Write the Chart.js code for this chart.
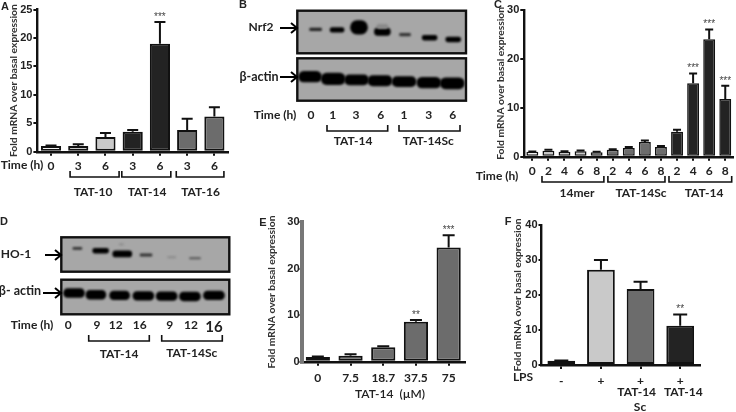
<!DOCTYPE html>
<html>
<head>
<meta charset="utf-8">
<script src="https://cdn.jsdelivr.net/npm/chart.js"></script>
<style>
html, body { margin: 0; padding: 0; background: #fff; overflow: hidden; }
#page { position: relative; width: 736px; height: 412px; filter: blur(0.35px); }
canvas { position: absolute; left: 0; top: 0; }
</style>
</head>
<body>
<div id="page"></div>
<script>
// Panel A
const catA = ['0', '3', '6', '3', '6', '3', '6'];
const valA = [1.0, 1.0, 2.6, 3.5, 19.0, 3.8, 6.2];
const errA = [1.1, 1.3, 3.3, 3.8, 22.8, 5.8, 7.8];
const starA = ['', '', '', '', '***', '', ''];
const ticksA = [0, 5, 10, 15, 20, 25];

// Panel C
const catC = ['0', '2', '4', '6', '8', '2', '4', '6', '8', '2', '4', '6', '8'];
const valC = [1.0, 1.2, 1.0, 1.1, 0.9, 1.4, 1.8, 3.0, 2.0, 5.1, 15.0, 24.0, 11.8];
const errC = [1.05, 1.4, 1.1, 1.25, 1.0, 1.5, 2.0, 3.3, 2.2, 5.5, 17.0, 26.0, 14.5];
const starC = ['', '', '', '', '', '', '', '', '', '', '***', '***', '***'];
const ticksC = [0, 10, 20, 30];

// Panel E
const catE = ['0', '7.5', '18.7', '37.5', '75'];
const valE = [1.0, 1.3, 3.1, 8.6, 24.6];
const errE = [1.1, 1.6, 3.3, 9.0, 27.2];
const starE = ['', '', '', '**', '***'];
const ticksE = [0, 10, 20, 30];

// Panel F
const catF = ['-', '+', '+', '+'];
const valF = [1.2, 27.2, 21.7, 11.2];
const errF = [1.3, 30.0, 23.8, 14.4];
const starF = ['', '', '', '**'];
const ticksF = [0, 10, 20, 30, 40];

// Blots: lane, band low/high in % of blot height, band width
const nrf2Lane = [0.26, 1.15, 2.06, 3.03, 3.03, 3.97, 4.99, 5.97];
const nrf2Low = [53, 49.5, 45, 58, 42, 41, 31, 27];
const nrf2High = [59, 60.5, 77, 68, 59, 47, 42, 38];
const nrf2Wide = [12, 14, 17, 11, 16, 11, 15, 15];
const nrf2Tone = ['#222', '#000', '#000', '#8a8a8a', '#000', '#333', '#000', '#000'];

const actinBLane = [0.03, 0.99, 1.96, 2.93, 3.93, 4.96, 5.93];
const actinBLow = [44, 38, 37, 35, 33, 30, 28];
const actinBHigh = [69, 65, 61, 59, 57, 55, 54];
const actinBWide = [23, 24, 24, 24, 24, 24, 24];

const hoLane = [0.17, 1.14, 2.04, 2.0, 3.03, 4.1, 5.07];
const hoLow = [65, 54, 43, 78, 45, 40, 37];
const hoHigh = [71, 68, 61, 81, 52, 44, 41];
const hoWide = [9, 16, 19, 4, 12, 8, 11];
const hoTone = ['#333', '#000', '#000', '#888', '#333', '#8a8a8a', '#555'];

const actinDLane = [0.03, 0.94, 1.93, 2.92, 3.89, 4.86, 5.86];
const actinDLow = [49, 44, 42, 41, 40, 39, 42];
const actinDHigh = [74, 69, 67, 66, 65, 64, 67];
const actinDWide = [21, 20, 20, 21, 21, 21, 21];

const timeB = ['0', '1', '3', '6', '1', '3', '6'];
const timeD = ['0', '9', '12', '16', '9', '12', '16'];
const yTitle = 'Fold mRNA over basal expression';

const WHITE = '#ffffff', LIGHT = '#c9c9c9', MID = '#6c6c6c', DARK = '#232323';
const LABEL = 'bold 12px Lato';
const page = document.getElementById('page');

function newCanvas() {
    const c = document.createElement('canvas');
    c.width = 736;
    c.height = 412;
    page.appendChild(c);
    return c;
}

// text, brackets and arrows around a panel, in page pixels
function drawNotes(ctx, chart, notes) {
    ctx.save();
    ctx.textBaseline = 'middle';
    (notes.brackets || []).forEach(b => {
        let x0 = b.x0, x1 = b.x1;
        if (b.from !== undefined) {
            x0 = chart.scales.x.getPixelForValue(b.from);
            x1 = chart.scales.x.getPixelForValue(b.to);
        }
        ctx.strokeStyle = '#111';
        ctx.lineWidth = 1.6;
        ctx.beginPath();
        ctx.moveTo(x0, b.y);
        ctx.lineTo(x0, b.y + 6);
        ctx.lineTo(x1, b.y + 6);
        ctx.lineTo(x1, b.y);
        ctx.stroke();
    });
    (notes.arrows || []).forEach(a => {
        ctx.strokeStyle = '#000';
        ctx.lineWidth = 2;
        ctx.beginPath();
        ctx.moveTo(a.x0, a.y);
        ctx.lineTo(a.x1, a.y);
        ctx.moveTo(a.x1 - 6, a.y - 5);
        ctx.lineTo(a.x1, a.y);
        ctx.lineTo(a.x1 - 6, a.y + 5);
        ctx.stroke();
    });
    (notes.texts || []).forEach(t => {
        ctx.font = t.font || LABEL;
        ctx.fillStyle = t.color || '#222';
        ctx.textAlign = t.align || 'center';
        ctx.fillText(t.t, t.x, t.y);
    });
    ctx.restore();
}

function barPanel(cfg) {
    const box = cfg.box;
    const axisCol = cfg.yAxisColor || '#111';
    new Chart(newCanvas(), {
        type: 'bar',
        data: {
            labels: cfg.labels,
            datasets: [{
                data: cfg.values,
                backgroundColor: cfg.colors,
                borderColor: '#111',
                borderWidth: cfg.barLine || 2,
                borderSkipped: false,
                barPercentage: cfg.barPct,
                categoryPercentage: 1
            }]
        },
        options: {
            responsive: false,
            animation: false,
            layout: { padding: { left: box.l - cfg.yw, top: box.t, right: 736 - box.r, bottom: 412 - box.b - 40 } },
            plugins: { legend: { display: false }, tooltip: { enabled: false } },
            scales: {
                x: {
                    afterFit: s => { s.height = 40; },
                    border: { color: '#111', width: 2.4 },
                    grid: { offset: false, drawOnChartArea: false, tickLength: 4, tickColor: '#111', lineWidth: 2 },
                    ticks: { color: '#222', font: { family: 'Lato', weight: 'bold', size: 12 }, padding: cfg.xPad, maxRotation: 0, autoSkip: false }
                },
                y: {
                    min: 0,
                    max: cfg.ticks[cfg.ticks.length - 1],
                    afterFit: s => { s.width = cfg.yw; },
                    afterBuildTicks: s => { s.ticks = cfg.ticks.map(v => ({ value: v })); },
                    border: { color: axisCol, width: cfg.yAxisWidth || 2.4 },
                    grid: { drawOnChartArea: false, tickLength: cfg.yTick || 4, tickColor: '#111', lineWidth: 2 },
                    ticks: { color: '#222', font: { family: 'Liberation Sans', weight: 'bold', size: 11 }, padding: cfg.yPad === undefined ? 1 : cfg.yPad },
                    title: {
                        display: true,
                        text: yTitle,
                        color: '#333',
                        padding: 0,
                        font: { family: 'Lato', weight: 'bold', size: 10.3 }
                    }
                }
            }
        },
        plugins: [{
            id: 'errorBars',
            afterDatasetsDraw(chart) {
                const ctx = chart.ctx, xs = chart.scales.x, ys = chart.scales.y;
                ctx.save();
                ctx.strokeStyle = '#111';
                ctx.lineWidth = 2;
                cfg.errors.forEach((e, i) => {
                    const x = xs.getPixelForValue(i);
                    const y0 = ys.getPixelForValue(cfg.values[i]);
                    const y1 = ys.getPixelForValue(e);
                    ctx.beginPath();
                    ctx.moveTo(x, y0);
                    ctx.lineTo(x, y1);
                    ctx.moveTo(x - cfg.cap / 2, y1);
                    ctx.lineTo(x + cfg.cap / 2, y1);
                    ctx.stroke();
                    if (cfg.stars[i]) {
                        ctx.font = '10px "Liberation Sans"';
                        ctx.fillStyle = '#444';
                        ctx.textAlign = 'center';
                        ctx.textBaseline = 'middle';
                        ctx.fillText(cfg.stars[i], x, y1 - 5);
                    }
                });
                ctx.restore();
                drawNotes(ctx, chart, cfg.notes);
            }
        }]
    });
}

function blotPanel(cfg) {
    const box = cfg.box;
    new Chart(newCanvas(), {
        type: 'bar',
        data: {
            datasets: cfg.lanes.map((lane, i) => ({
                data: [{ x: lane, y: [cfg.low[i], cfg.high[i]] }],
                backgroundColor: cfg.tones ? cfg.tones[i] : '#000',
                barThickness: cfg.wide[i],
                borderRadius: 8,
                borderSkipped: false,
                grouped: false
            }))
        },
        options: {
            responsive: false,
            animation: false,
            layout: { padding: { left: box.l, top: box.t, right: 736 - box.r, bottom: 412 - box.b } },
            plugins: { legend: { display: false }, tooltip: { enabled: false } },
            scales: {
                x: { type: 'linear', offset: false, min: -0.5, max: 6.5, display: false },
                y: { min: 0, max: 100, display: false }
            }
        },
        plugins: [{
            id: 'blotFrame',
            beforeDatasetsDraw(chart) {
                const ctx = chart.ctx, a = chart.chartArea;
                ctx.save();
                ctx.fillStyle = '#a7a7a7';
                ctx.fillRect(a.left, a.top, a.width, a.height);
                ctx.filter = 'blur(1.1px)';
            },
            afterDatasetsDraw(chart) {
                const ctx = chart.ctx, a = chart.chartArea;
                ctx.restore();
                ctx.strokeStyle = '#111';
                ctx.lineWidth = 2.4;
                ctx.strokeRect(a.left, a.top, a.width, a.height);
                drawNotes(ctx, chart, cfg.notes);
            }
        }]
    });
}

barPanel({
    labels: catA, values: valA, errors: errA, stars: starA, ticks: ticksA,
    colors: [WHITE, LIGHT, LIGHT, DARK, DARK, MID, MID],
    box: { l: 37.4, r: 228, t: 9.5, b: 151.7 },
    yw: 30, barPct: 0.74, cap: 11, xPad: 3,
    notes: {
        brackets: [
            { from: 0.7, to: 2.5, y: 171 },
            { from: 2.6, to: 4.4, y: 171 },
            { from: 4.6, to: 6.35, y: 171 }
        ],
        texts: [
            { t: 'Time (h)', x: 22, y: 165 },
            { t: 'TAT-10', x: 93, y: 192.5 },
            { t: 'TAT-14', x: 147, y: 192.5 },
            { t: 'TAT-16', x: 200.5, y: 192.5 },
            { t: 'A', x: 5, y: 7, font: 'bold 11px "Liberation Sans"' }
        ]
    }
});

barPanel({
    labels: catC, values: valC, errors: errC, stars: starC, ticks: ticksC,
    colors: [WHITE, LIGHT, LIGHT, LIGHT, LIGHT, MID, MID, MID, MID, DARK, DARK, DARK, DARK],
    box: { l: 524.3, r: 733.3, t: 10, b: 156.7 },
    yw: 30, barPct: 0.74, cap: 8, xPad: 3, barLine: 1.5,
    notes: {
        brackets: [
            { from: 0.6, to: 4.45, y: 176 },
            { from: 4.7, to: 8.25, y: 176 },
            { from: 8.5, to: 12.4, y: 176 }
        ],
        texts: [
            { t: 'Time (h)', x: 497, y: 176.5 },
            { t: '14mer', x: 577, y: 193 },
            { t: 'TAT-14Sc', x: 641, y: 193 },
            { t: 'TAT-14', x: 704, y: 193 },
            { t: 'C', x: 498, y: 5, font: 'bold 11px "Liberation Sans"' }
        ]
    }
});

barPanel({
    labels: catE, values: valE, errors: errE, stars: starE, ticks: ticksE,
    colors: [MID, MID, MID, MID, MID],
    box: { l: 301.5, r: 465, t: 222.3, b: 361.7 },
    yw: 36, barPct: 0.74, cap: 12, xPad: 5, yAxisColor: '#777', yAxisWidth: 4, yPad: 0, yTick: 2,
    notes: {
        texts: [
            { t: 'TAT-14  (µM)', x: 390, y: 394, font: '600 12px Lato' },
            { t: 'E', x: 263, y: 223, font: 'bold 11px "Liberation Sans"' }
        ]
    }
});

barPanel({
    labels: catF, values: valF, errors: errF, stars: starF, ticks: ticksF,
    colors: [WHITE, LIGHT, MID, DARK],
    box: { l: 541.5, r: 700, t: 225, b: 365 },
    yw: 30, barPct: 0.7, cap: 14, xPad: 5, yTick: 3,
    notes: {
        texts: [
            { t: 'LPS', x: 523, y: 377 },
            { t: 'TAT-14', x: 636.7, y: 392 },
            { t: 'TAT-14', x: 683.3, y: 392 },
            { t: 'Sc', x: 640, y: 407 },
            { t: 'F', x: 508, y: 222, font: 'bold 11px "Liberation Sans"' }
        ]
    }
});

blotPanel({
    lanes: nrf2Lane, low: nrf2Low, high: nrf2High, wide: nrf2Wide, tones: nrf2Tone,
    box: { l: 297.3, r: 466, t: 10.7, b: 53.3 },
    notes: {
        arrows: [{ x0: 280, x1: 297, y: 28 }],
        texts: [
            { t: 'Nrf2', x: 261, y: 27.5 },
            { t: 'B', x: 243, y: 5, font: 'bold 11px "Liberation Sans"' }
        ]
    }
});

blotPanel({
    lanes: actinBLane, low: actinBLow, high: actinBHigh, wide: actinBWide,
    box: { l: 297.3, r: 466, t: 58.3, b: 100.7 },
    notes: {
        arrows: [{ x0: 280, x1: 297, y: 77 }],
        brackets: [{ x0: 327, x1: 387.7, y: 125 }, { x0: 399, x1: 460, y: 125 }],
        texts: timeB.map((t, i) => ({ t, x: [311, 332.7, 356, 380.7, 404, 428.7, 452.7][i], y: 115 })).concat([
            { t: 'β-actin', x: 259, y: 76.5, font: 'bold 12.5px Lato' },
            { t: 'Time (h)', x: 275, y: 115 },
            { t: 'TAT-14', x: 353, y: 141 },
            { t: 'TAT-14Sc', x: 428.3, y: 141 }
        ])
    }
});

blotPanel({
    lanes: hoLane, low: hoLow, high: hoHigh, wide: hoWide, tones: hoTone,
    box: { l: 61.3, r: 229.3, t: 237.3, b: 271.7 },
    notes: {
        arrows: [{ x0: 45, x1: 61, y: 255 }],
        texts: [
            { t: 'HO-1', x: 16, y: 254.5, font: 'bold 12px Lato' },
            { t: 'D', x: 4, y: 222, font: 'bold 11px "Liberation Sans"' }
        ]
    }
});

blotPanel({
    lanes: actinDLane, low: actinDLow, high: actinDHigh, wide: actinDWide,
    box: { l: 61.3, r: 229.3, t: 279.7, b: 314.3 },
    notes: {
        arrows: [{ x0: 43, x1: 61, y: 293 }],
        brackets: [{ x0: 88.7, x1: 149.3, y: 335 }, { x0: 161.7, x1: 222.3, y: 335 }],
        texts: timeD.map((t, i) => ({ t, x: [68.3, 97, 115.7, 139.7, 169.7, 191, 214][i], y: i === 6 ? 327 : 325, font: i === 6 ? 'bold 15px Lato' : LABEL })).concat([
            { t: 'β- actin', x: 20, y: 291, font: 'bold 12.5px Lato' },
            { t: 'Time (h)', x: 32, y: 325 },
            { t: 'TAT-14', x: 119, y: 354 },
            { t: 'TAT-14Sc', x: 191.7, y: 353 }
        ])
    }
});
</script>
</body>
</html>
